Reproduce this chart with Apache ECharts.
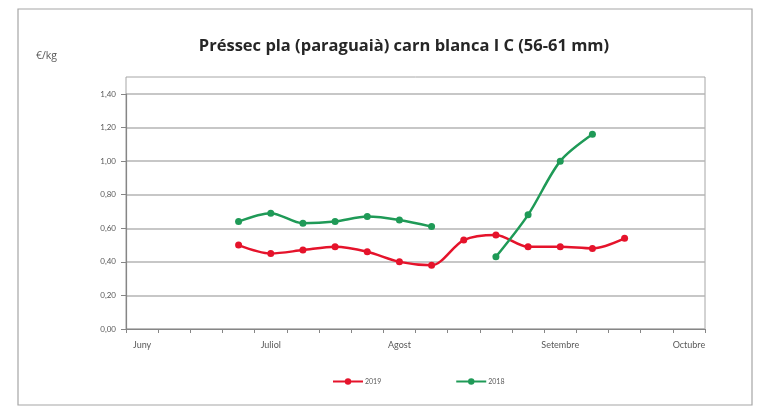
<!DOCTYPE html>
<html>
<head>
<meta charset="utf-8">
<script src="https://cdn.jsdelivr.net/npm/echarts@6/dist/echarts.min.js"></script>
<style>
  html, body { margin: 0; padding: 0; background: #fff; }
  #chart { width: 762px; height: 409px; }
</style>
</head>
<body>
<div id="chart"></div>
<script>
// 18 weekly slots, month label on the week it starts
const weekLabels = ['Juny', '', '', '', 'Juliol', '', '', '', 'Agost', '', '', '', '', 'Setembre', '', '', '', 'Octubre']
const yTicks = [0, 0.2, 0.4, 0.6, 0.8, 1.0, 1.2, 1.4]
const price2019 = [null, null, null, 0.50, 0.45, 0.47, 0.49, 0.46, 0.40, 0.38, 0.53, 0.56, 0.49, 0.49, 0.48, 0.54, null, null]
const price2018 = [null, null, null, 0.64, 0.69, 0.63, 0.64, 0.67, 0.65, 0.61, null, 0.43, 0.68, 1.00, 1.16, null, null, null]

const chart = echarts.init(document.getElementById('chart'))

const labelColor = '#595959'
const font = 'Lato, "Open Sans", sans-serif'

chart.setOption({
  animation: false,
  title: {
    text: 'Préssec pla (paraguaià) carn blanca I C (56-61 mm)',
    left: 399,
    textAlign: 'center',
    top: 33,
    textStyle: { fontSize: 16.5, fontWeight: 'bold', color: '#262626', fontFamily: '"Open Sans", sans-serif' }
  },
  graphic: [
    { // outer chart frame
      type: 'rect',
      shape: { x: 18, y: 9, width: 734, height: 396 },
      style: { fill: 'none', stroke: '#a6a6a6', lineWidth: 1.2 },
      silent: true
    },
    { // plot area frame
      type: 'rect',
      shape: { x: 126, y: 77, width: 579, height: 252 },
      style: { fill: 'none', stroke: '#a6a6a6', lineWidth: 1 },
      silent: true
    },
    {
      type: 'text',
      left: 36,
      top: 51,
      style: { text: '€/kg', fontSize: 10.5, fill: labelColor, fontFamily: '"Open Sans", sans-serif' }
    }
  ],
  legend: {
    bottom: 19,
    left: 327,
    itemGap: 74,
    itemWidth: 30,
    itemHeight: 8,
    textStyle: { fontSize: 7, color: labelColor, fontFamily: font, padding: [0, 0, 0, -3] },
    data: ['2019', '2018']
  },
  grid: { left: 126, right: 57, top: 94, bottom: 80 },
  xAxis: {
    type: 'category',
    data: weekLabels,
    boundaryGap: true,
    axisLine: { lineStyle: { color: '#868686', width: 1.2 } },
    axisTick: { show: true, interval: 0, length: 4, lineStyle: { color: '#868686' } },
    axisLabel: { interval: 0, color: labelColor, fontSize: 9, fontFamily: font, margin: 12 }
  },
  yAxis: {
    type: 'value',
    min: yTicks[0],
    max: yTicks[yTicks.length - 1],
    interval: 0.2,
    axisLine: { show: true, lineStyle: { color: '#868686', width: 1.2 } },
    axisTick: { show: true, length: 5, lineStyle: { color: '#868686' } },
    splitLine: { lineStyle: { color: '#b4b4b4', width: 1.5 } },
    axisLabel: {
      color: labelColor,
      fontSize: 8,
      fontFamily: font,
      margin: 10,
      formatter: v => v.toFixed(2).replace('.', ',')
    }
  },
  series: [
    {
      name: '2019',
      type: 'line',
      data: price2019,
      smooth: 0.3,
      symbol: 'circle',
      symbolSize: 7,
      color: '#e5132b',
      lineStyle: { width: 2.5 }
    },
    {
      name: '2018',
      type: 'line',
      data: price2018,
      smooth: 0.3,
      symbol: 'circle',
      symbolSize: 7,
      color: '#1f9a57',
      lineStyle: { width: 2.5 }
    }
  ]
})
</script>
</body>
</html>
